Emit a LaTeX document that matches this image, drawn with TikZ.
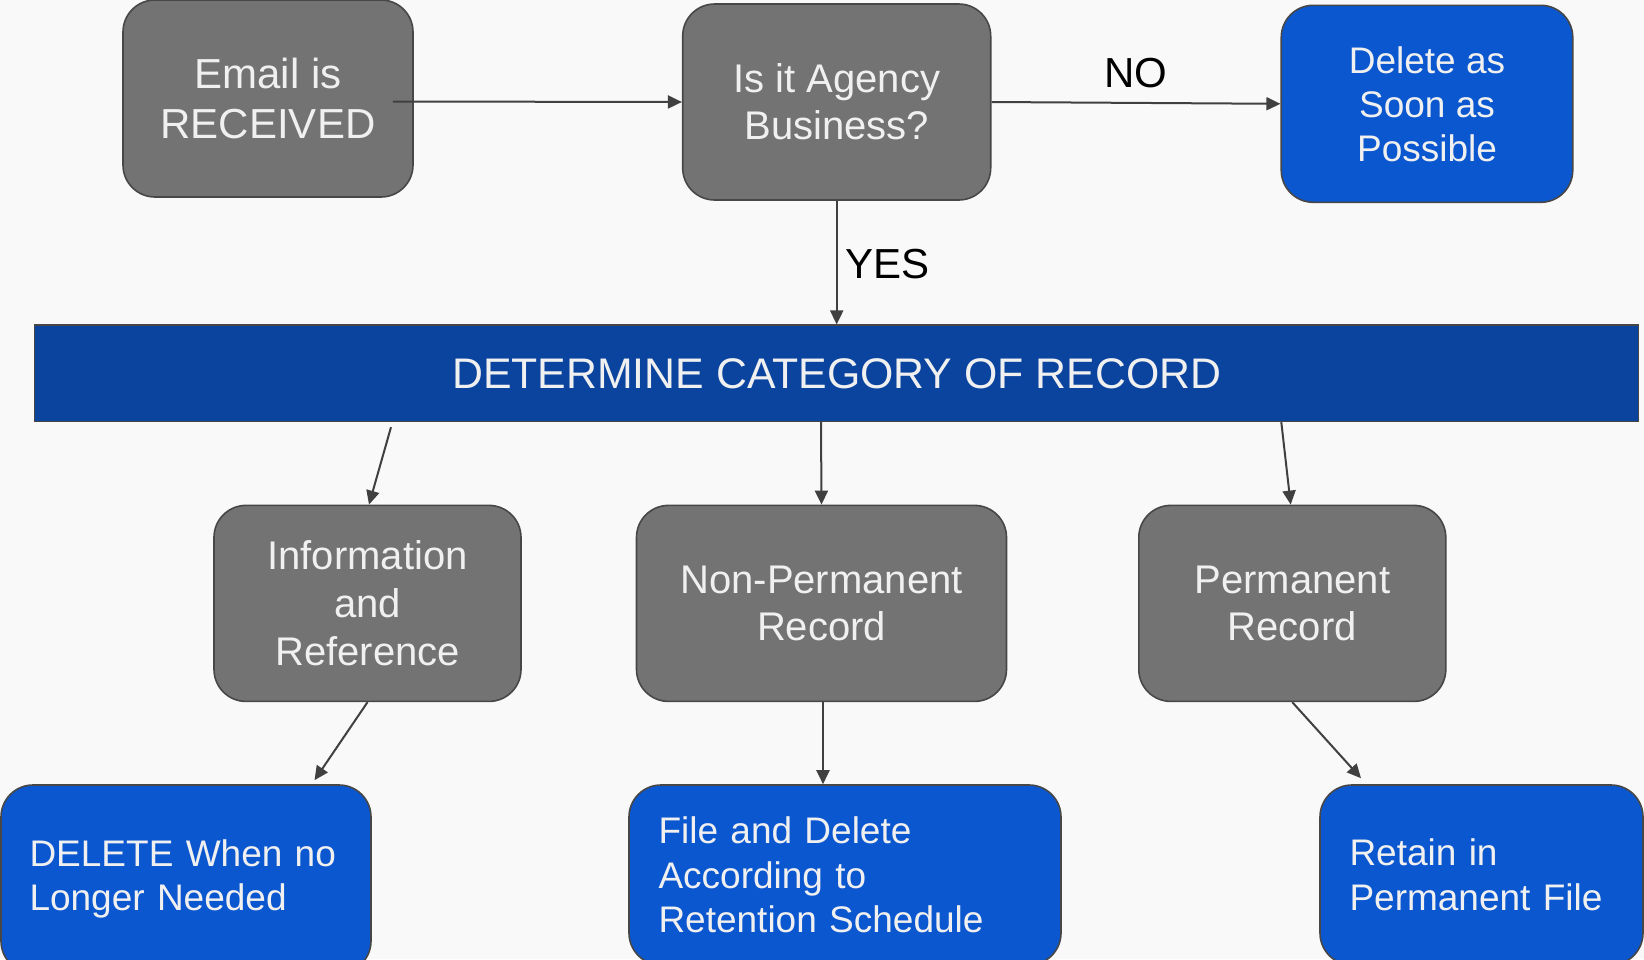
\documentclass[tikz,border=0pt]{standalone}
\usepackage{fontspec}
\setmainfont{Liberation Sans}
\usetikzlibrary{arrows.meta,calc}
\definecolor{bg}{HTML}{F9F9F9}
\definecolor{grayfill}{HTML}{737373}
\definecolor{edge}{HTML}{474747}
\definecolor{bluefill}{HTML}{0B57D0}
\definecolor{barfill}{HTML}{0B449F}
\definecolor{txt}{HTML}{F0F0F0}
\definecolor{arrowc}{HTML}{404040}
\begin{document}
\begin{tikzpicture}[x=1pt,y=-1pt,
  box/.style={draw=edge, line width=1.6pt, rounded corners=32pt, inner sep=0pt, text=txt, align=center},
  graybox/.style={box, fill=grayfill},
  bluebox/.style={box, fill=bluefill},
  leftbox/.style={bluebox, align=left, font=\fontsize{37}{44.5}\selectfont},
  arr/.style={draw=arrowc, line width=2pt, -{Triangle[length=14pt,width=13pt]}},
  lbl/.style={text=black, inner sep=0pt, font=\fontsize{42}{50}\selectfont}
]
\fill[bg] (0,0) rectangle (1644,959);
\useasboundingbox (0,0) rectangle (1644,959);

% top row
\node[graybox, minimum width=290pt, minimum height=197pt, font=\fontsize{42}{50}\selectfont] (email) at (268,98.5) {Email is\\RECEIVED};
\node[graybox, minimum width=308pt, minimum height=196pt, font=\fontsize{40}{47}\selectfont] (agency) at (836.7,102) {Is it Agency\\Business?};
\node[bluebox, minimum width=291.5pt, minimum height=197pt, font=\fontsize{37}{44}\selectfont] (delete) at (1427,103.8) {Delete as\\Soon as\\Possible};

% bar
\node[draw=edge, line width=1.2pt, fill=barfill, text=txt, inner sep=0pt, minimum width=1604pt, minimum height=96.5pt, font=\fontsize{42.8}{50}\selectfont] (bar) at (836.7,373.3) {\raisebox{-2pt}{DETERMINE CATEGORY OF RECORD}};

% middle row
\node[graybox, minimum width=307pt, minimum height=196pt, font=\fontsize{40}{48}\selectfont] (info) at (367.5,603.4) {Information\\and\\Reference};
\node[graybox, minimum width=370pt, minimum height=196pt, font=\fontsize{40}{47}\selectfont] (nonperm) at (821.5,603.4) {Non-Permanent\\Record};
\node[graybox, minimum width=307pt, minimum height=196pt, font=\fontsize{40}{47}\selectfont] (perm) at (1292.3,603.4) {Permanent\\Record};

% bottom row
\node[leftbox, minimum width=370pt, minimum height=188pt, text width=313pt] (delbox) at (186,879) {DELETE When no\\Longer Needed};
\node[leftbox, minimum width=432pt, minimum height=180pt, text width=373pt] (file) at (845,875) {File and Delete\\According to\\Retention Schedule};
\node[leftbox, minimum width=323pt, minimum height=180pt, text width=264pt] (retain) at (1481.5,875) {Retain in\\Permanent File};

% labels
\node[lbl] (no) at (1135.5,73.4) {NO};
\node[lbl, anchor=west] (yes) at (845,264) {YES};

% connectors
\draw[arr] ([xshift=-21pt,yshift=-3pt]email.east) -- (agency.west);
\draw[arr] (agency.east) -- (delete.west);
\draw[arr] (agency.south) -- (bar.north);
\draw[arr] ([xshift=-445.7pt,yshift=-5pt]bar.south) -- ([xshift=1.5pt]info.north);
\draw[arr] ([xshift=-15.7pt]bar.south) -- (nonperm.north);
\draw[arr] ([xshift=444.6pt]bar.south) -- ([xshift=-1.6pt]perm.north);
\draw[arr] (info.south) -- ([xshift=128.5pt,yshift=4pt]delbox.north);
\draw[arr] ([xshift=1.5pt]nonperm.south) -- ([xshift=-22pt]file.north);
\draw[arr] (perm.south) -- ([xshift=-120.5pt,yshift=6pt]retain.north);
\end{tikzpicture}
\end{document}
